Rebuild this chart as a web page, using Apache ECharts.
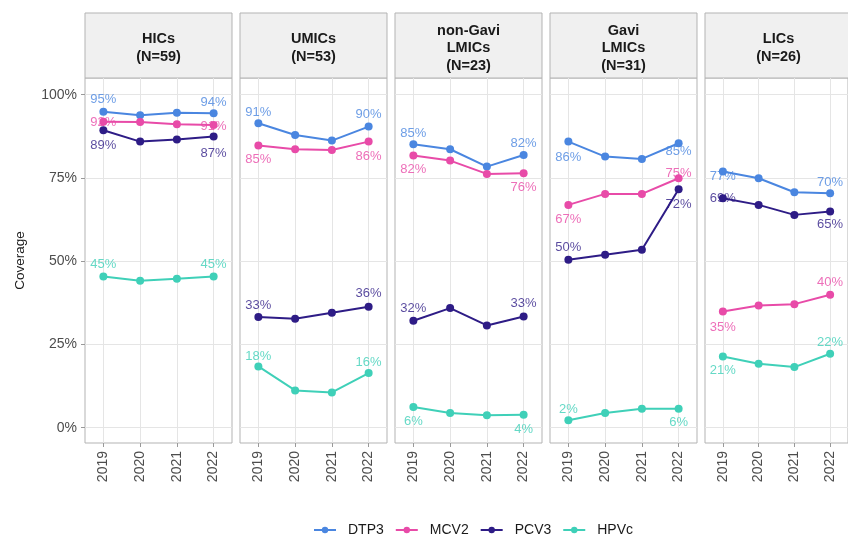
<!DOCTYPE html>
<html>
<head>
<meta charset="utf-8">
<script src="https://cdn.jsdelivr.net/npm/echarts@6/dist/echarts.min.js"></script>
<style>
  html, body { margin: 0; padding: 0; background: #fff; }
  #chart { width: 848px; height: 540px; }
</style>
</head>
<body>
<div id="chart"></div>
<script>
// facets and categories
const years = ['2019', '2020', '2021', '2022'];
const groups = ['HICs\n(N=59)', 'UMICs\n(N=53)', 'non-Gavi\nLMICs\n(N=23)', 'Gavi\nLMICs\n(N=31)', 'LICs\n(N=26)'];
const vaccines = ['DTP3', 'MCV2', 'PCV3', 'HPVc'];
const yTicks = [0, 25, 50, 75, 100];

// coverage (%) per group, one row per facet
const dtp3 = [[94.9, 93.8, 94.6, 94.4], [91.4, 87.9, 86.2, 90.4], [85.1, 83.6, 78.4, 81.9], [85.9, 81.4, 80.7, 85.4], [76.9, 74.9, 70.7, 70.4]];
const mcv2 = [[91.9, 91.8, 91.1, 90.9], [84.7, 83.6, 83.4, 85.9], [81.7, 80.2, 76.2, 76.4], [66.9, 70.2, 70.2, 74.9], [34.9, 36.7, 37.1, 39.9]];
const pcv3 = [[89.3, 85.9, 86.5, 87.4], [33.2, 32.7, 34.5, 36.3], [32.1, 35.9, 30.7, 33.4], [50.4, 51.9, 53.4, 71.6], [68.9, 66.9, 63.9, 64.9]];
const hpvc = [[45.4, 44.1, 44.7, 45.4], [18.4, 11.2, 10.6, 16.4], [6.2, 4.4, 3.7, 3.9], [2.2, 4.4, 5.7, 5.7], [21.4, 19.2, 18.2, 22.2]];
const values = [dtp3, mcv2, pcv3, hpvc];

// vertical nudge (px) of the first / last label in each facet
const nudge = [
  [[-12, -11], [-11, -12], [-11, -12], [16, 8], [5, -11]],
  [[1, 1], [14, 15], [14, 14], [15, -5], [16, -12]],
  [[15, 17], [-12, -13], [-12, -13], [-12, 15], [0, 13]],
  [[-12, -12], [-10, -11], [14, 15], [-11, 14], [14, -11]]
];

const colors = ['#4a86e0', '#e84ba8', '#2e1c86', '#3fd0b8'];
const labelColors = ['rgba(74,134,224,0.8)', 'rgba(232,75,168,0.8)', 'rgba(46,28,134,0.8)', 'rgba(63,208,184,0.8)'];
const font = "'Liberation Sans', Arial, sans-serif";

// layout
const lefts = [85, 240, 395, 550, 705];
const panelW = 147, panelTop = 78, panelH = 365, stripTop = 13;

var myChart = echarts.init(document.getElementById('chart'));

const grid = [], xAxis = [], yAxis = [], series = [], graphic = [];

groups.forEach((g, i) => {
  grid.push({
    left: lefts[i], top: panelTop, width: panelW, height: panelH,
    show: true, borderColor: '#b3b3b3', borderWidth: 1, backgroundColor: '#fff'
  });
  xAxis.push({
    type: 'category',
    gridIndex: i,
    data: years,
    boundaryGap: true,
    axisLine: { show: false, onZero: false },
    axisTick: { show: true, alignWithLabel: true, length: 4, lineStyle: { color: '#999' } },
    axisLabel: { rotate: 90, color: '#4d4d4d', fontSize: 14, fontFamily: font, margin: 8 },
    splitLine: { show: true, alignWithLabel: true, lineStyle: { color: '#e5e5e5', width: 1 } }
  });
  yAxis.push({
    type: 'value',
    gridIndex: i,
    min: -4.6,
    max: 105,
    name: i === 0 ? 'Coverage' : '',
    nameLocation: 'middle',
    nameGap: 58,
    nameTextStyle: { color: '#1a1a1a', fontSize: 13.5, fontFamily: font },
    axisLine: { show: false, onZero: false },
    axisTick: { show: i === 0, length: 4, customValues: yTicks, lineStyle: { color: '#999' } },
    axisLabel: {
      show: i === 0, customValues: yTicks, color: '#4d4d4d', fontSize: 14, fontFamily: font, margin: 8,
      formatter: v => v + '%'
    },
    splitLine: { show: true, lineStyle: { color: '#e5e5e5', width: 1 } }
  });

  // strip header
  graphic.push({
    type: 'rect',
    shape: { x: lefts[i], y: stripTop, width: panelW, height: panelTop - stripTop },
    style: { fill: '#f0f0f0', stroke: '#b3b3b3', lineWidth: 1 }
  });
  graphic.push({
    type: 'text',
    x: lefts[i] + panelW / 2,
    y: (stripTop + panelTop) / 2 + 2.5,
    style: {
      text: g, fill: '#1a1a1a', font: 'bold 14.5px ' + font,
      align: 'center', verticalAlign: 'middle', lineHeight: 17.5
    }
  });

  vaccines.forEach((v, k) => {
    const row = values[k][i];
    series.push({
      name: v,
      type: 'line',
      xAxisIndex: i,
      yAxisIndex: i,
      symbol: 'circle',
      symbolSize: 8,
      color: colors[k],
      lineStyle: { width: 2, color: colors[k] },
      data: row.map((val, j) => {
        if (j !== 0 && j !== row.length - 1) return val;
        const dy = nudge[k][i][j === 0 ? 0 : 1];
        return {
          value: val,
          label: {
            show: true,
            position: 'inside',
            offset: [0, dy],
            formatter: p => Math.round(p.value) + '%',
            color: labelColors[k],
            fontSize: 13,
            fontFamily: font
          }
        };
      }),
      emphasis: { disabled: true }
    });
  });
});

const option = {
  animation: false,
  backgroundColor: '#fff',
  grid: grid,
  xAxis: xAxis,
  yAxis: yAxis,
  legend: {
    data: vaccines,
    left: 313,
    top: 523,
    padding: 0,
    itemWidth: 22,
    itemHeight: 8,
    itemGap: 11,
    textStyle: { color: '#1a1a1a', fontSize: 14, fontFamily: font, padding: [0, 0, 0, 7] }
  },
  graphic: graphic,
  series: series
};

myChart.setOption(option);
</script>
</body>
</html>
